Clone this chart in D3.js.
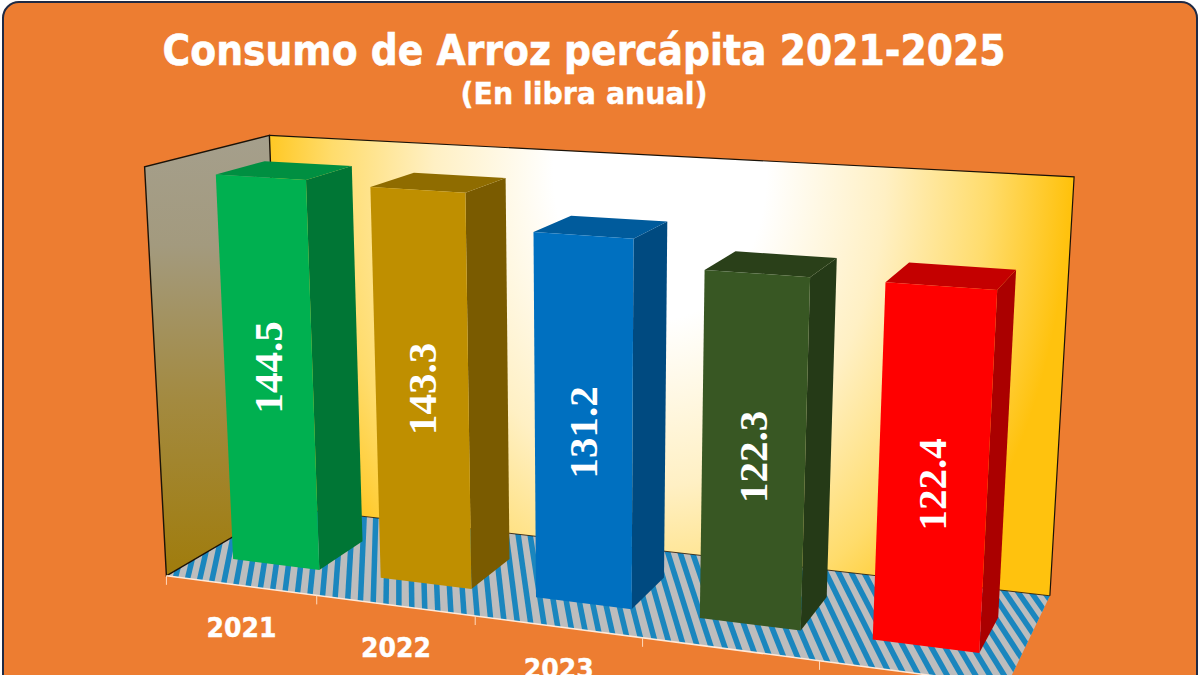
<!DOCTYPE html>
<html><head><meta charset="utf-8">
<script src="https://cdn.jsdelivr.net/npm/d3@7/dist/d3.min.js"></script>
<style>html,body{margin:0;background:#fff;overflow:hidden}svg{display:block}</style>
</head><body><svg id="c" width="1200" height="675"></svg>
<script>
const years = ["2021","2022","2023","2024","2025"];
const values = [144.5,143.3,131.2,122.3,122.4];
const frontColors = ["#00B050","#BF8F00","#0070C0","#385723","#FF0000"];
const sideColors = ["#007635","#7A5B00","#004A80","#253A17","#AA0000"];
const topColors = ["#008F41","#8F6C00","#005B9C","#2A4019","#C40000"];
const titleText = "Consumo de Arroz percápita 2021-2025";
const subtitleText = "(En libra anual)";

const W=1200,H=675;
// camera calibration: chart-box corners [x,depth,height] -> screen
const calib=[[[0,0,0],[167,575]],[[1,0,0],[1007,686]],[[0,1,0],[283,508]],[[1,1,0],[1050,595]],
 [[0,1,1],[270,135]],[[1,1,1],[1074,177]],[[0,0,1],[144,167]]];
function solve(A,b){const n=b.length,M=A.map((r,i)=>[...r,b[i]]);
 for(let i=0;i<n;i++){let p=i;for(let j=i+1;j<n;j++)if(Math.abs(M[j][i])>Math.abs(M[p][i]))p=j;[M[i],M[p]]=[M[p],M[i]];
  for(let j=0;j<n;j++)if(j!==i){const f=M[j][i]/M[i][i];for(let k=i;k<=n;k++)M[j][k]-=f*M[i][k];}}
 return M.map((r,i)=>r[n]/r[i]);}
const rows=[],rhs=[];
calib.forEach(([[X,Y,Z],[u,v]])=>{rows.push([X,Y,Z,1,0,0,0,0,-u*X,-u*Y,-u*Z]);rhs.push(u);rows.push([0,0,0,0,X,Y,Z,1,-v*X,-v*Y,-v*Z]);rhs.push(v);});
const AtA=d3.range(11).map(i=>d3.range(11).map(j=>d3.sum(rows,r=>r[i]*r[j])));
const Atb=d3.range(11).map(i=>d3.sum(rows,(r,k)=>r[i]*rhs[k]));
const p=solve(AtA,Atb);
const proj=(X,Y,Z)=>{const w=p[8]*X+p[9]*Y+p[10]*Z+1;return[(p[0]*X+p[1]*Y+p[2]*Z+p[3])/w,(p[4]*X+p[5]*Y+p[6]*Z+p[7])/w];};
const poly=pts=>"M"+pts.map(q=>proj(...q).map(v=>v.toFixed(1)).join(",")).join("L")+"Z";

const xBand=d3.scaleBand(years,[0,1]).paddingInner(0.41).paddingOuter(0.22);
const xCat=d3.scaleBand(years,[0,1]);
const yVal=d3.scaleLinear([0,150],[0,1]);
const depth=d3.scaleLinear([0,1],[0.28,0.68]);
const labelDrop=d3.scaleLinear([0,1,2,3,4],[0.02,0.006,-0.021,-0.01,-0.032]);

const svg=d3.select("#c");
const defs=svg.append("defs");
const wallG=defs.append("radialGradient").attr("id","wall").attr("gradientUnits","userSpaceOnUse")
 .attr("cx",660).attr("cy",170).attr("r",410).attr("gradientTransform","translate(660 170) scale(1 1.4) translate(-660 -170)");
[[0,"#FFFFFF"],[.26,"#FFFFFF"],[.55,"#FFF0C4"],[.8,"#FFDC6C"],[1,"#FFC20E"]].forEach(s=>wallG.append("stop").attr("offset",s[0]).attr("stop-color",s[1]));
const leftG=defs.append("linearGradient").attr("id","lwall").attr("x1",0).attr("y1",0).attr("x2",0).attr("y2",1);
[[0,"#A59F8C"],[.25,"#A39A7E"],[.6,"#A38A40"],[1,"#A07C0C"]].forEach(s=>leftG.append("stop").attr("offset",s[0]).attr("stop-color",s[1]));
defs.append("clipPath").attr("id","floorClip").append("path").attr("d",poly([[0,0,0],[1,0,0],[1,1,0],[0,1,0]]));

svg.append("rect").attr("x",3).attr("y",2).attr("width",1194).attr("height",720).attr("rx",16)
 .attr("fill","#ED7D31").attr("stroke","#1F2A44").attr("stroke-width",2);

// floor with perspective stripes
svg.append("path").attr("d",poly([[0,0,0],[1,0,0],[1,1,0],[0,1,0]])).attr("fill","#BDBDBD");
const stripeVP=[400,-300];
const stripeU=d3.scaleLinear([0,80],[-0.02,1.28]);
svg.append("g").attr("clip-path","url(#floorClip)").selectAll("line").data(d3.range(81)).join("line")
 .each(function(i){const a=proj(stripeU(i),0,0);const t=0.3;
  d3.select(this).attr("x1",a[0]+(a[0]-stripeVP[0])*0.05).attr("y1",a[1]+(a[1]-stripeVP[1])*0.05)
   .attr("x2",a[0]+(stripeVP[0]-a[0])*t).attr("y2",a[1]+(stripeVP[1]-a[1])*t);})
 .attr("stroke","#1A86BE").attr("stroke-width",5.5);

// walls
svg.append("path").attr("d",poly([[0,1,0],[1,1,0],[1,1,1],[0,1,1]])).attr("fill","url(#wall)");
svg.append("path").attr("d","M"+proj(0,1,0)+"L"+proj(1,1,0)).attr("stroke","#1a1208").attr("stroke-width",0.8).attr("fill","none");
svg.append("path").attr("d","M"+proj(1,1,0)+"L"+proj(1,1,1)+"L"+proj(0,1,1)).attr("stroke","#1a1208").attr("stroke-width",1.2).attr("fill","none");
svg.append("path").attr("d",poly([[0,0,0],[0,1,0],[0,1,1],[0,0,1]])).attr("fill","url(#lwall)").attr("stroke","#1a1208").attr("stroke-width",1.4);
svg.append("path").attr("d","M"+proj(0,0,0)+"L"+proj(1,0,0)).attr("stroke","#FFE9D8").attr("stroke-width",1.5).attr("fill","none");

// ticks on the front edge
const tickU=[...years.map(y=>xCat(y)),1];
svg.append("g").selectAll("line").data(tickU).join("line")
 .attr("x1",d=>proj(d,0,0)[0]).attr("y1",d=>proj(d,0,0)[1])
 .attr("x2",d=>proj(d,0,0)[0]).attr("y2",d=>proj(d,0,0)[1]+9)
 .attr("stroke","#FFD9BC").attr("stroke-width",1);

// bars
const bars=svg.append("g").selectAll("g").data(years).join("g");
const d0=depth(0),d1=depth(1);
const x0=y=>xBand(y),x1=y=>xBand(y)+xBand.bandwidth();
bars.append("path").attr("d",(y,i)=>poly([[x1(y),d0,0],[x1(y),d1,0],[x1(y),d1,yVal(values[i])],[x1(y),d0,yVal(values[i])]])).attr("fill",(y,i)=>sideColors[i]);
bars.append("path").attr("d",(y,i)=>poly([[x0(y),d0,yVal(values[i])],[x1(y),d0,yVal(values[i])],[x1(y),d1,yVal(values[i])],[x0(y),d1,yVal(values[i])]])).attr("fill",(y,i)=>topColors[i]);
bars.append("path").attr("d",(y,i)=>poly([[x0(y),d0,0],[x1(y),d0,0],[x1(y),d0,yVal(values[i])],[x0(y),d0,yVal(values[i])]])).attr("fill",(y,i)=>frontColors[i]);
bars.append("text").text((y,i)=>values[i].toFixed(1))
 .attr("transform",(y,i)=>{const c=proj((x0(y)+x1(y))/2,d0,yVal(values[i])/2+labelDrop(i));return `translate(${c[0]},${c[1]}) rotate(-90)`;})
 .attr("text-anchor","middle").attr("dominant-baseline","central")
 .style("font-family","'Liberation Serif','Times New Roman','DejaVu Serif',serif").style("font-weight","bold").attr("font-size",41).attr("fill","#fff");

// category labels
svg.append("g").selectAll("text").data(years).join("text").text(d=>d)
 .attr("x",d=>proj(xCat(d)+xCat.bandwidth()/2,0,0)[0]+1)
 .attr("y",d=>proj(xCat(d)+xCat.bandwidth()/2,0,0)[1]+42)
 .attr("text-anchor","middle").attr("dominant-baseline","central")
 .attr("font-family","DejaVu Sans").attr("font-weight","bold").attr("font-size",27).attr("fill","#fff")
 .attr("stroke","#fff").attr("stroke-width",0.4)
 .attr("textLength",70).attr("lengthAdjust","spacingAndGlyphs");

svg.append("text").text(titleText).attr("x",584).attr("y",65).attr("text-anchor","middle")
 .attr("font-family","DejaVu Sans").attr("font-weight","bold").attr("font-size",43).attr("fill","#fff")
 .attr("stroke","#fff").attr("stroke-width",0.6)
 .attr("textLength",843).attr("lengthAdjust","spacingAndGlyphs");
svg.append("text").text(subtitleText).attr("x",584).attr("y",104).attr("text-anchor","middle")
 .attr("font-family","DejaVu Sans").attr("font-weight","bold").attr("font-size",30).attr("fill","#fff")
 .attr("stroke","#fff").attr("stroke-width",0.4)
 .attr("textLength",247).attr("lengthAdjust","spacingAndGlyphs");
</script></body></html>
